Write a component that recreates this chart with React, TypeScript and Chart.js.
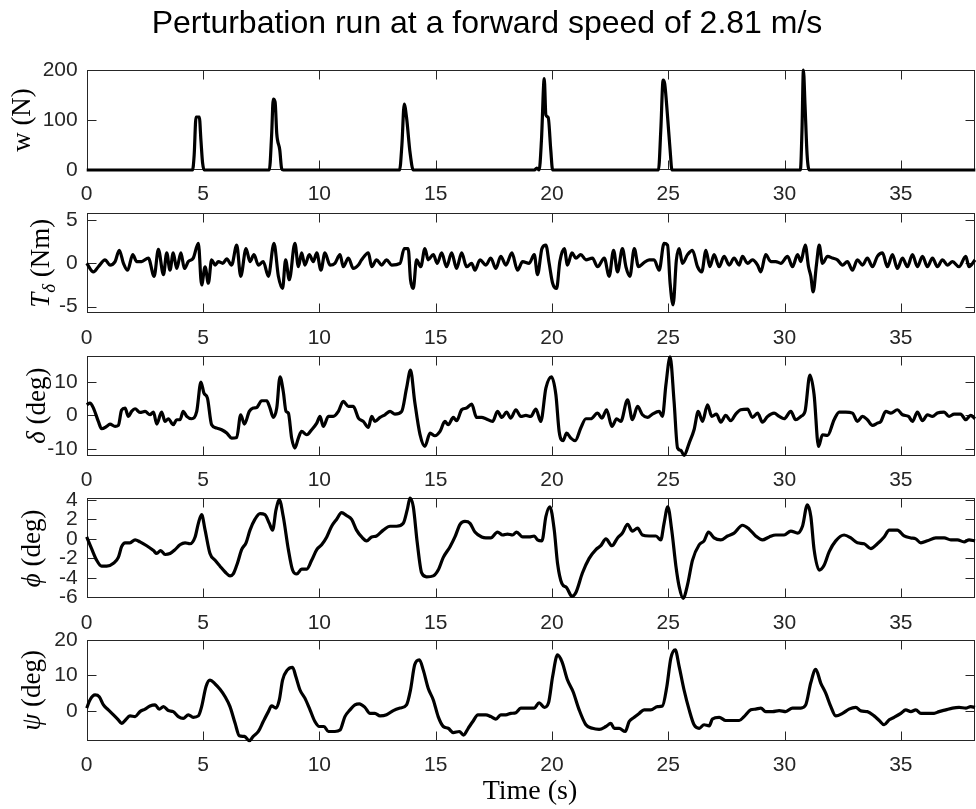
import React, { useEffect, useRef } from "react";
import { Chart, registerables } from "chart.js";

Chart.register(...registerables);

// ---------------- data (time in s, value) ----------------
const X_TICKS = [0, 5, 10, 15, 20, 25, 30, 35];
const X_MAX = 38.2;

const W_TICKS = [0, 100, 200];
const TD_TICKS = [-5, 0, 5];
const DELTA_TICKS = [-10, 0, 10];
const PHI_TICKS = [-6, -4, -2, 0, 2, 4];
const PSI_TICKS = [0, 10, 20];

const W_SERIES: [number, number][] = [
  [0, 0], [4.55, 0], [4.62, 30], [4.7, 106], [4.84, 106], [4.91, 60], [4.98, 15], [5.05, 0],
  [7.85, 0], [7.95, 70], [8.02, 142], [8.1, 136], [8.17, 73], [8.3, 40], [8.38, 3], [8.45, 0],
  [13.45, 0], [13.55, 50], [13.65, 132], [13.75, 105], [13.9, 35], [14.04, 0],
  [19.25, 0], [19.35, 4], [19.45, 0], [19.55, 60], [19.67, 183], [19.74, 110], [19.84, 105], [19.95, 40], [20.03, 0],
  [24.58, 0], [24.68, 80], [24.78, 180], [24.85, 172], [24.97, 107], [25.08, 40], [25.16, 0],
  [30.68, 0], [30.75, 80], [30.81, 200], [30.88, 130], [30.97, 30], [31.06, 0], [38.2, 0],
];

const TDELTA_SERIES: [number, number][] = [
  [0, 0], [0.29, -1.0], [0.5, -0.4], [0.79, 0.4], [1.0, -0.2], [1.22, 0.2], [1.4, 1.5], [1.58, 0],
  [1.76, -0.8], [1.98, 1.0], [2.15, 0.2], [2.36, 0.2], [2.65, 0.6], [2.9, -1.5], [3.08, 1.6], [3.3, -1.3],
  [3.44, 1.2], [3.58, -0.8], [3.72, 1.2], [3.87, -0.6], [4.05, 1.2], [4.2, -0.6], [4.37, 0.2], [4.58, 0.6],
  [4.8, 2.3], [4.94, -2.5], [5.09, -0.4], [5.23, -2.3], [5.37, 0.4], [5.52, -0.2], [5.66, 0.2], [5.85, 0],
  [6.02, 0.5], [6.23, -0.2], [6.45, 2.1], [6.62, -1.5], [6.85, 1.7], [7.02, 0.2], [7.19, 1.0], [7.38, -0.2],
  [7.59, 0.2], [7.81, -1.5], [8.05, 2.3], [8.24, -1.5], [8.42, -2.9], [8.55, 0.4], [8.71, -1.9], [8.95, 2.3],
  [9.1, -0.4], [9.24, 1.2], [9.38, -0.2], [9.57, 1.0], [9.74, 0.2], [9.89, 1.2], [10.07, -0.8], [10.24, 1.2],
  [10.46, -0.2], [10.67, 0], [10.89, 1.0], [11.03, -0.4], [11.25, 0.6], [11.46, -0.6], [11.68, -0.2], [11.82, 0.4],
  [12.11, 1.2], [12.25, -0.4], [12.46, 0.4], [12.68, -0.2], [12.89, 0.4], [13.11, -0.2], [13.47, 0], [13.65, 1.7],
  [13.82, 1.7], [13.92, -1.9], [14.04, -2.9], [14.18, 0.4], [14.36, -0.4], [14.54, 1.7], [14.68, 0.4], [14.9, 1.0],
  [15.07, 0], [15.26, 1.2], [15.47, -0.4], [15.69, 1.2], [15.9, -0.6], [16.12, 1.2], [16.33, -0.4], [16.55, 0],
  [16.69, -0.8], [16.91, 0.4], [17.16, -0.2], [17.37, 0.6], [17.59, -0.6], [17.8, 0.8], [18.02, -0.2], [18.28, 1.2],
  [18.52, -0.8], [18.74, 0.2], [19.02, 0], [19.24, 1.0], [19.38, -1.3], [19.57, 1.7], [19.74, 2.1], [19.88, 0],
  [20.03, -2.3], [20.2, -2.9], [20.34, 0.2], [20.53, 1.7], [20.67, -0.2], [20.86, 1.2], [21.03, 0.6], [21.24, 1.0],
  [21.46, 0.4], [21.74, 0.6], [21.96, -0.4], [22.25, 0.6], [22.46, -1.5], [22.65, 1.5], [22.82, -1.0], [23.03, 1.7],
  [23.18, -0.4], [23.35, -1.5], [23.54, 1.7], [23.72, -0.4], [23.92, 0], [24.18, 0.4], [24.39, 0.4], [24.61, -0.8],
  [24.82, 2.3], [24.97, 2.1], [25.08, -2.3], [25.21, -4.8], [25.35, 0.4], [25.47, 1.7], [25.61, 0], [25.83, 1.0],
  [26.04, 1.5], [26.26, -0.4], [26.44, -1.0], [26.62, 1.5], [26.79, -0.4], [26.97, 1.0], [27.19, -0.4], [27.4, 0.8],
  [27.62, -0.2], [27.83, 0.6], [28.05, -0.2], [28.19, 0.8], [28.41, 0], [28.62, 0.4], [28.84, -0.2], [28.98, -1.0],
  [29.19, 1.0], [29.41, 0.2], [29.62, 0.2], [29.84, 0], [30.13, 0.8], [30.34, -0.4], [30.56, 1.0], [30.7, 0.2],
  [30.89, 2.1], [31.03, -0.4], [31.13, -1.5], [31.23, -3.3], [31.37, -0.2], [31.49, 2.1], [31.63, 0], [31.85, 0.8],
  [32.06, 0.6], [32.27, 0.4], [32.49, -0.2], [32.7, 0.2], [32.92, -0.8], [33.13, 0.4], [33.35, -0.2], [33.56, 0.6],
  [33.78, -0.4], [33.99, 0.8], [34.21, 1.2], [34.42, -0.4], [34.64, 1.0], [34.85, -0.6], [35.07, 0.6], [35.28, -0.4],
  [35.5, 1.0], [35.71, -0.4], [35.93, 0.8], [36.14, -0.4], [36.36, 0.6], [36.57, -0.4], [36.79, 0.4], [37.0, -0.2],
  [37.22, 0.2], [37.5, -0.4], [37.79, 0.8], [37.93, -0.4], [38.19, 0.4],
];

const DELTA_SERIES: [number, number][] = [
  [0, 3.2], [0.14, 3.7], [0.29, 2.2], [0.5, -1.8], [0.64, -4.0], [0.86, -3.3], [1.0, -2.6], [1.22, -3.3],
  [1.36, -3.0], [1.5, 1.6], [1.65, 2.2], [1.79, -0.3], [1.93, 1.2], [2.08, 2.0], [2.29, 0.9], [2.51, 1.2],
  [2.72, 0.2], [2.87, 1.0], [3.01, -2.6], [3.22, 1.0], [3.37, -1.8], [3.51, -1.0], [3.72, -2.8], [3.87, -1.3],
  [4.01, -1.3], [4.15, 1.2], [4.3, -0.3], [4.51, -1.0], [4.73, 1.2], [4.91, 10], [5.04, 6.7], [5.19, 5.2],
  [5.37, -2.8], [5.59, -3.8], [5.8, -4.3], [6.02, -5.3], [6.23, -6.8], [6.45, -6.6], [6.62, 0.2], [6.78, -2.6],
  [6.99, 1.2], [7.16, 2.2], [7.31, 2.4], [7.52, 4.4], [7.74, 4.4], [7.88, 2.2], [8.02, -0.6], [8.17, 2.2],
  [8.31, 11.6], [8.45, 7.2], [8.57, 1.2], [8.67, 0.7], [8.81, -6.8], [8.95, -9.8], [9.1, -6.8], [9.24, -4.8],
  [9.46, -5.8], [9.67, -4.3], [9.89, -2.3], [10.03, -0.3], [10.17, -3.3], [10.39, -0.3], [10.6, -0.3], [10.82, 1.2],
  [11.03, 4.2], [11.25, 2.7], [11.46, 2.7], [11.68, -0.8], [11.89, -1.8], [12.11, -3.6], [12.25, -0.3], [12.39, -1.8],
  [12.61, -0.6], [12.82, 0.2], [13.04, 1.2], [13.25, 0.4], [13.54, 1.2], [13.75, 8.2], [13.92, 13.6], [14.1, 4.2],
  [14.33, -5.8], [14.54, -9.3], [14.76, -5.3], [14.97, -6.1], [15.19, -4.8], [15.4, -1.8], [15.54, -2.8], [15.76, -0.6],
  [15.9, -1.6], [16.12, 1.7], [16.33, 2.2], [16.55, 3.4], [16.76, -0.6], [16.98, -0.6], [17.16, -1.0], [17.45, -1.8],
  [17.66, 1.2], [17.85, -0.6], [18.05, 1.0], [18.23, -0.8], [18.45, 1.7], [18.66, -0.3], [18.88, 0], [19.09, -0.3],
  [19.31, 1.9], [19.52, -1.8], [19.74, 8.2], [19.98, 11.6], [20.17, 6.2], [20.31, -4.8], [20.48, -7.6], [20.63, -5.3],
  [20.81, -6.8], [21.0, -7.6], [21.24, -3.8], [21.46, -1.0], [21.67, -1.0], [21.96, 0.7], [22.15, -0.8], [22.35, 1.7],
  [22.58, -3.3], [22.78, -1.0], [22.96, -1.8], [23.25, 4.7], [23.46, -1.3], [23.68, 2.7], [23.89, 0.2], [24.11, -0.6],
  [24.32, 0.4], [24.61, 1.2], [24.75, -0.3], [24.9, 9.2], [25.08, 17.6], [25.25, 4.2], [25.4, -9.8], [25.54, -10.5],
  [25.68, -12.0], [25.9, -8.3], [26.11, -4.3], [26.29, 1.2], [26.47, -1.8], [26.69, 3.2], [26.87, -0.3], [27.07, 0.4],
  [27.26, -2.0], [27.47, 0], [27.69, -1.6], [27.9, 0.4], [28.12, 1.7], [28.41, 1.9], [28.62, -0.6], [28.84, 0.7],
  [29.05, -2.0], [29.27, -0.3], [29.55, 0.7], [29.77, -0.3], [29.98, -1.0], [30.27, 1.2], [30.48, -1.3], [30.7, -0.3],
  [30.88, 1.2], [31.09, 12.1], [31.27, 6.2], [31.46, -9.3], [31.63, -5.8], [31.85, -6.0], [32.13, -1.3], [32.35, 1.0],
  [32.63, 1.0], [32.92, 0.7], [33.13, -1.8], [33.35, -0.3], [33.56, -1.3], [33.78, -3.0], [33.99, -2.3], [34.14, -1.8],
  [34.35, 1.2], [34.57, 0.7], [34.85, 1.7], [35.07, 0.2], [35.33, -0.3], [35.5, -1.8], [35.71, 1.0], [35.93, -1.6],
  [36.14, 0.2], [36.36, -0.3], [36.57, 0.7], [36.86, 1.0], [37.07, -0.3], [37.29, 0.4], [37.57, 0.4], [37.79, -1.3],
  [38.0, 0], [38.19, -1.0],
];

const PHI_SERIES: [number, number][] = [
  [0, 0.2], [0.21, -1.0], [0.43, -2.2], [0.64, -2.8], [0.86, -2.8], [1.15, -2.5], [1.36, -1.9], [1.5, -0.8],
  [1.65, -0.4], [1.86, -0.4], [2.08, -0.1], [2.29, -0.3], [2.58, -0.7], [2.87, -1.2], [3.01, -1.5], [3.18, -1.2],
  [3.37, -1.6], [3.58, -1.5], [3.8, -1.1], [4.01, -0.6], [4.23, -0.4], [4.44, -0.5], [4.66, 0.2], [4.8, 1.6],
  [4.94, 2.5], [5.09, 0.9], [5.3, -1.5], [5.52, -2.2], [5.73, -2.8], [5.95, -3.4], [6.16, -3.8], [6.3, -3.6],
  [6.48, -2.5], [6.66, -1.1], [6.85, -0.4], [7.02, 0.9], [7.23, 2.0], [7.45, 2.6], [7.66, 2.5], [7.85, 1.6],
  [7.99, 0.9], [8.14, 3.0], [8.28, 4.0], [8.45, 2.3], [8.67, -1.1], [8.85, -3.2], [9.03, -3.6], [9.24, -3.1],
  [9.46, -3.1], [9.67, -2.2], [9.89, -1.1], [10.1, -0.6], [10.32, 0.2], [10.53, 1.3], [10.74, 2.0], [10.96, 2.7],
  [11.17, 2.4], [11.39, 2.0], [11.6, 0.9], [11.82, 0.2], [12.03, -0.2], [12.25, 0.2], [12.46, 0.3], [12.75, 0.9],
  [13.04, 1.3], [13.32, 1.3], [13.61, 1.6], [13.78, 3.0], [13.9, 4.2], [14.04, 3.3], [14.21, -0.4], [14.4, -3.5],
  [14.61, -3.9], [14.9, -3.8], [15.11, -3.2], [15.33, -1.9], [15.62, -0.8], [15.83, 0.2], [16.05, 1.5], [16.26, 1.8],
  [16.48, 1.6], [16.69, 0.7], [16.98, 0.2], [17.16, 0.1], [17.37, 0.1], [17.66, 0.7], [17.88, 0.4], [18.09, 0.5],
  [18.31, 0.4], [18.48, 0.7], [18.74, 0.2], [19.02, 0.2], [19.24, 0.3], [19.38, -0.1], [19.57, -0.2], [19.74, 2.3],
  [19.91, 3.3], [20.1, 0.9], [20.24, -2.5], [20.43, -4.6], [20.63, -5.0], [20.86, -5.9], [21.03, -5.5], [21.31, -3.5],
  [21.6, -2.0], [21.89, -1.1], [22.1, -0.7], [22.32, 0], [22.58, -0.7], [22.82, 0.1], [23.03, 0.6], [23.25, 1.5],
  [23.46, 0.8], [23.68, 1.1], [23.89, 0.4], [24.18, 0.3], [24.47, 0.3], [24.68, -0.1], [24.82, 1.6], [24.98, 3.3],
  [25.15, 0.9], [25.33, -2.8], [25.47, -4.9], [25.64, -6.1], [25.83, -4.7], [26.04, -2.2], [26.33, -0.6], [26.54, -0.2],
  [26.73, 0.7], [26.97, 0.1], [27.26, -0.1], [27.55, 0.3], [27.83, 0.6], [28.19, 1.4], [28.48, 1.0], [28.76, 0.3],
  [29.05, -0.1], [29.34, 0.2], [29.62, 0.4], [29.98, 0.4], [30.27, 0.8], [30.56, 0.6], [30.77, 1.3], [30.98, 3.5],
  [31.13, 2.3], [31.27, -1.1], [31.49, -3.2], [31.7, -2.7], [31.92, -1.3], [32.2, -0.2], [32.56, 0.4], [32.85, 0.1],
  [33.13, -0.4], [33.42, -0.5], [33.71, -1.0], [33.99, -0.5], [34.28, 0.2], [34.5, 0.9], [34.85, 0.9], [35.14, 0.3],
  [35.43, 0.1], [35.64, 0], [35.86, -0.4], [36.14, -0.2], [36.5, 0.1], [36.86, 0.1], [37.15, -0.1], [37.43, -0.1],
  [37.72, -0.3], [37.93, -0.1], [38.19, -0.2],
];

const PSI_SERIES: [number, number][] = [
  [0, 0.8], [0.14, 3.1], [0.36, 4.5], [0.54, 4.0], [0.72, 1.7], [0.93, 0.3], [1.15, -1.1], [1.36, -2.5],
  [1.5, -3.5], [1.65, -2.7], [1.86, -1.4], [2.08, -1.6], [2.29, -0.2], [2.51, 0.5], [2.72, 1.4], [2.94, 1.7],
  [3.12, 0.5], [3.3, 1.2], [3.51, 0.1], [3.72, -0.2], [3.94, -1.6], [4.15, -2.1], [4.37, -1.1], [4.58, -1.8],
  [4.8, -1.4], [4.94, 1.2], [5.13, 6.9], [5.3, 8.7], [5.52, 7.6], [5.73, 6.1], [5.95, 4.0], [6.16, 1.2],
  [6.38, -3.5], [6.56, -7.0], [6.78, -7.2], [6.99, -8.4], [7.16, -7.2], [7.38, -5.8], [7.59, -3.0], [7.81, -0.2],
  [7.95, 1.4], [8.14, 0.8], [8.28, 3.1], [8.42, 8.7], [8.62, 11.5], [8.85, 12.3], [8.99, 9.7], [9.17, 5.9],
  [9.38, 3.6], [9.6, 0.3], [9.81, -3.0], [10.0, -4.4], [10.2, -4.4], [10.39, -5.8], [10.67, -5.8], [10.89, -5.4],
  [11.1, -1.6], [11.32, 0.3], [11.53, 1.7], [11.72, 2.0], [11.96, 1.0], [12.18, -0.7], [12.39, -0.7], [12.61, -1.4],
  [12.89, -1.1], [13.18, 0.1], [13.47, 0.8], [13.75, 1.7], [13.92, 5.9], [14.1, 13.0], [14.3, 14.4], [14.47, 11.5],
  [14.68, 6.4], [14.9, 3.1], [15.11, -1.6], [15.33, -4.4], [15.54, -4.9], [15.76, -6.1], [16.02, -5.8], [16.2, -6.8],
  [16.4, -4.9], [16.6, -3.0], [16.82, -1.1], [17.05, -1.1], [17.16, -1.1], [17.37, -1.6], [17.59, -2.3], [17.8, -1.1],
  [18.02, -1.1], [18.23, -0.7], [18.45, -0.5], [18.66, 0.8], [18.95, 0.8], [19.24, 0.8], [19.45, 2.3], [19.67, 1.0],
  [19.85, 2.2], [20.03, 9.7], [20.24, 15.8], [20.43, 13.9], [20.67, 8.7], [20.91, 5.4], [21.17, 0.3], [21.46, -3.9],
  [21.74, -4.9], [22.03, -5.2], [22.32, -4.4], [22.53, -3.5], [22.68, -4.9], [22.89, -4.9], [23.15, -5.8], [23.32, -3.0],
  [23.54, -1.8], [23.75, -0.7], [23.96, 0.3], [24.25, 0.3], [24.54, 1.2], [24.75, 1.4], [24.94, 6.9], [25.11, 14.8],
  [25.3, 17.2], [25.47, 12.5], [25.68, 5.9], [25.9, 0.3], [26.11, -3.9], [26.33, -4.9], [26.54, -3.9], [26.76, -4.2],
  [26.9, -2.3], [27.19, -1.8], [27.47, -2.7], [27.76, -2.7], [28.05, -2.7], [28.26, -1.6], [28.55, 0.3], [28.76, 0.5],
  [28.98, 0.8], [29.19, -0.2], [29.48, -0.2], [29.77, 0.1], [30.05, -0.2], [30.34, 0.8], [30.7, 0.8], [30.91, 1.7],
  [31.13, 8.0], [31.34, 11.7], [31.56, 7.8], [31.77, 5.0], [31.99, 1.2], [32.2, -1.4], [32.49, -0.7], [32.77, 0.5],
  [33.06, 1.0], [33.28, 0], [33.56, -0.2], [33.85, -1.4], [34.07, -2.7], [34.28, -3.9], [34.5, -2.5], [34.71, -1.8],
  [35.0, -0.7], [35.21, 0.3], [35.43, -0.2], [35.64, 0.3], [35.86, -0.7], [36.14, -0.7], [36.43, -0.7], [36.64, -0.2],
  [36.93, 0.3], [37.22, 0.8], [37.5, 1.0], [37.79, 0.8], [38.0, 1.2], [38.19, 1.0],
];

// ---------------- layout / style ----------------
const CW = 976;
const CH = 809;
const PLOT_LEFT = 86.7;
const PLOT_RIGHT = 975.3;
const X_AXIS_H = 40;
const TICK_LEN = 9;
const AXIS_COLOR = "#262626";
const SANS = '"Liberation Sans", Arial, Helvetica, sans-serif';
const SERIF = '"Liberation Serif", "Times New Roman", "DejaVu Serif", serif';

type Seg = { t: string; it?: boolean; sub?: boolean };

type Panel = {
  series: [number, number][];
  ticks: number[];
  min: number;
  max: number;
  top: number;
  bottom: number;
  label: Seg[];
  labelX: number;
};

const PANELS: Panel[] = [
  { series: W_SERIES, ticks: W_TICKS, min: 0, max: 200, top: 70, bottom: 170, label: [{ t: "w (N)" }], labelX: 23 },
  {
    series: TDELTA_SERIES, ticks: TD_TICKS, min: -5.77, max: 5.77, top: 213.3, bottom: 313.3,
    label: [{ t: "T", it: true }, { t: "δ", it: true, sub: true }, { t: " (Nm)" }], labelX: 42,
  },
  {
    series: DELTA_SERIES, ticks: DELTA_TICKS, min: -12.1, max: 18, top: 355.5, bottom: 455.7,
    label: [{ t: "δ", it: true }, { t: " (deg)" }], labelX: 38,
  },
  {
    series: PHI_SERIES, ticks: PHI_TICKS, min: -6.1, max: 4.17, top: 498.3, bottom: 598.3,
    label: [{ t: "ϕ", it: true }, { t: " (deg)" }], labelX: 33,
  },
  {
    series: PSI_SERIES, ticks: PSI_TICKS, min: -8.4, max: 20, top: 640, bottom: 740.7,
    label: [{ t: "ψ", it: true }, { t: " (deg)" }], labelX: 33,
  },
];

const TITLE = "Perturbation run at a forward speed of 2.81 m/s";
const X_TITLE = "Time (s)";

function drawRich(ctx: CanvasRenderingContext2D, segs: Seg[], cx: number, cy: number, size: number) {
  ctx.save();
  ctx.translate(cx, cy);
  ctx.rotate(-Math.PI / 2);
  ctx.fillStyle = "#000";
  ctx.textBaseline = "middle";
  ctx.textAlign = "left";
  const fontOf = (s: Seg) => `${s.it ? "italic " : ""}${s.sub ? Math.round(size * 0.7) : size}px ${SERIF}`;
  let total = 0;
  const widths = segs.map((s) => {
    ctx.font = fontOf(s);
    const w = ctx.measureText(s.t).width;
    total += w;
    return w;
  });
  let x = -total / 2;
  segs.forEach((s, i) => {
    ctx.font = fontOf(s);
    ctx.fillText(s.t, x, s.sub ? size * 0.28 : 0);
    x += widths[i];
  });
  ctx.restore();
}

const axesBox = {
  id: "axesBox",
  beforeDatasetsDraw(chart: any) {
    const { ctx, chartArea: a, scales } = chart;
    ctx.save();
    ctx.strokeStyle = AXIS_COLOR;
    ctx.lineWidth = 1;
    const L = Math.round(a.left) + 0.5;
    const R = Math.round(a.right) - 0.5;
    const T = Math.round(a.top) + 0.5;
    const B = Math.round(a.bottom) - 0.5;
    ctx.strokeRect(L, T, R - L, B - T);
    ctx.beginPath();
    for (const tk of scales.x.ticks) {
      const px = Math.round(scales.x.getPixelForValue(tk.value)) + 0.5;
      ctx.moveTo(px, B);
      ctx.lineTo(px, B - TICK_LEN);
      ctx.moveTo(px, T);
      ctx.lineTo(px, T + TICK_LEN);
    }
    for (const tk of scales.y.ticks) {
      const py = Math.round(scales.y.getPixelForValue(tk.value)) + 0.5;
      ctx.moveTo(L, py);
      ctx.lineTo(L + TICK_LEN, py);
      ctx.moveTo(R, py);
      ctx.lineTo(R - TICK_LEN, py);
    }
    ctx.stroke();
    ctx.restore();
  },
};

const panelText = {
  id: "panelText",
  afterDraw(chart: any, _args: any, opts: any) {
    const { ctx, chartArea: a } = chart;
    drawRich(ctx, opts.label, opts.labelX, (a.top + a.bottom) / 2, 27);
    if (opts.showTitle) {
      ctx.save();
      ctx.fillStyle = "#000";
      ctx.font = `32px ${SANS}`;
      ctx.textAlign = "center";
      ctx.textBaseline = "middle";
      ctx.fillText(TITLE, 487, 24);
      ctx.restore();
    }
    if (opts.showXTitle) {
      ctx.save();
      ctx.fillStyle = "#000";
      ctx.font = `28px ${SERIF}`;
      ctx.textAlign = "center";
      ctx.textBaseline = "middle";
      ctx.fillText(X_TITLE, 530, 792);
      ctx.restore();
    }
  },
};

export default function App() {
  const refs = useRef<(HTMLCanvasElement | null)[]>([]);

  useEffect(() => {
    const charts: Chart[] = [];
    PANELS.forEach((p, i) => {
      const canvas = refs.current[i];
      if (!canvas) return;
      const chart = new Chart(canvas, {
        type: "line",
        data: {
          datasets: [
            {
              data: p.series.map(([x, y]) => ({ x, y })),
              borderColor: "#000",
              borderWidth: 3.2,
              pointRadius: 0,
              fill: false,
              cubicInterpolationMode: "monotone",
              clip: 2,
            } as any,
          ],
        },
        options: {
          responsive: false,
          animation: false,
          events: [],
          layout: {
            padding: {
              left: 0,
              right: CW - PLOT_RIGHT,
              top: p.top,
              bottom: CH - p.bottom - X_AXIS_H,
            },
          },
          plugins: {
            legend: { display: false },
            tooltip: { enabled: false },
            title: { display: false },
            panelText: {
              label: p.label,
              labelX: p.labelX,
              showTitle: i === 0,
              showXTitle: i === PANELS.length - 1,
            },
          } as any,
          scales: {
            x: {
              type: "linear",
              min: 0,
              max: X_MAX,
              grid: { display: false, drawTicks: false },
              border: { display: false },
              ticks: {
                font: { family: SANS, size: 21 },
                color: AXIS_COLOR,
                padding: 12,
                maxRotation: 0,
                autoSkip: false,
              },
              afterBuildTicks: (s: any) => {
                s.ticks = X_TICKS.map((v) => ({ value: v }));
              },
              afterFit: (s: any) => {
                s.height = X_AXIS_H;
              },
            },
            y: {
              type: "linear",
              min: p.min,
              max: p.max,
              grid: { display: false, drawTicks: false },
              border: { display: false },
              ticks: {
                font: { family: SANS, size: 21 },
                color: AXIS_COLOR,
                padding: 9,
                autoSkip: false,
              },
              afterBuildTicks: (s: any) => {
                s.ticks = p.ticks.map((v) => ({ value: v }));
              },
              afterFit: (s: any) => {
                s.width = PLOT_LEFT;
              },
            },
          },
        },
        plugins: [axesBox, panelText],
      });
      charts.push(chart);
    });
    return () => charts.forEach((c) => c.destroy());
  }, []);

  return (
    <div style={{ position: "fixed", left: 0, top: 0, width: CW, height: CH, background: "#fff" }}>
      {PANELS.map((_, i) => (
        <canvas
          key={i}
          ref={(el) => {
            refs.current[i] = el;
          }}
          width={CW}
          height={CH}
          style={{ position: "absolute", left: 0, top: 0 }}
        />
      ))}
    </div>
  );
}
